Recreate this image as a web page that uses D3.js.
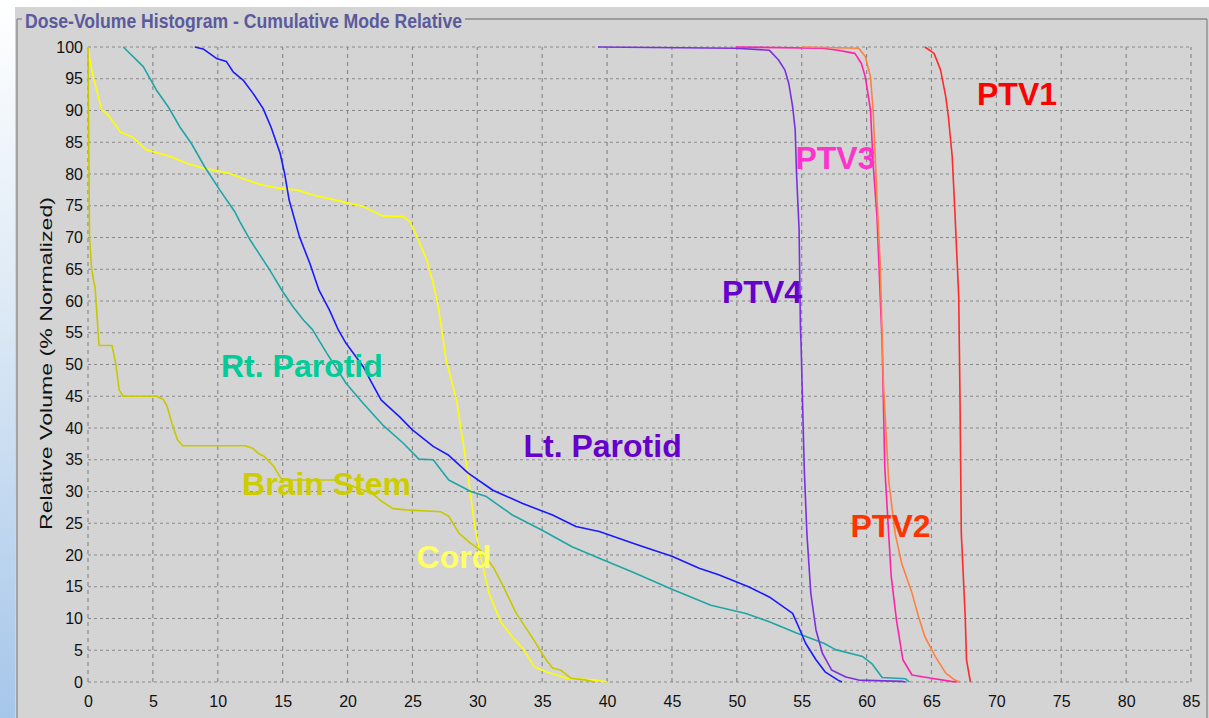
<!DOCTYPE html>
<html>
<head>
<meta charset="utf-8">
<script src="https://cdn.jsdelivr.net/npm/d3@7"></script>
<style>
  html, body { margin: 0; padding: 0; background: #ffffff; }
  svg { display: block; }
</style>
</head>
<body>
<svg id="chart" width="1209" height="718"></svg>
<script>
// ---------------- DATA ----------------
const xTicks = [0,5,10,15,20,25,30,35,40,45,50,55,60,65,70,75,80,85];
const yTicks = [0,5,10,15,20,25,30,35,40,45,50,55,60,65,70,75,80,85,90,95,100];

const cordDose = [0,0.1,0.4,0.8,1.05,1.55,2.5,3.5,3.9,4.5,6.3,7.6,8.9,10.9,12.0,13.2,14.8,16.1,17.3,18.8,21.2,22.7,24.3,24.8,25.3,26.1,26.6,27.0,27.6,28.4,29.2,29.8,30.2,30.9,31.8,32.7,33.5,34.4,35.3,36.9,39.1,40.0];
const cordVol  = [100,98.4,95.4,92.2,90.1,89.3,86.6,85.7,84.9,83.8,82.8,81.7,80.9,80.1,79.2,78.4,77.7,77.5,76.7,76.0,74.9,73.4,73.3,72.5,70.4,66.5,62.8,59.1,50.7,44.4,33.9,24.5,20.3,14.0,9.5,7.1,5.3,2.4,1.6,0.6,0.3,0];

const brainDose = [0,0.05,0.12,0.28,0.55,0.7,0.85,1.85,2.15,2.4,2.7,5.3,5.8,6.1,6.5,6.9,7.3,12.1,12.7,13.2,13.6,14.3,14.8,15.0,19.1,21.9,22.6,23.5,24.5,27.2,27.8,28.6,29.4,30.2,31.2,31.9,33.0,34.2,35.3,35.8,36.4,37.2,38.4,39.0];
const brainVol  = [100,86.5,70,65,62,57.5,53,53,50,46,45,45,44.5,43.4,40.5,38.1,37.2,37.2,36.8,35.9,35.5,34,32.3,31.8,31.8,29.7,28.5,27.3,27.1,26.8,26.1,23.4,22,20.8,18.2,15.5,10.8,7.1,3.5,2.2,1.9,0.6,0.3,0];

const rtParDose = [2.72,4.26,5.28,6.18,7.08,7.97,9.0,10.15,11.3,11.7,12.5,14.0,15.0,15.8,16.6,17.3,18.4,19.9,21.2,22.7,24.3,25.5,26.6,27.8,29.5,30.7,32.7,35.0,37.3,39.4,42.0,45.0,48.0,50.7,52.5,54.6,56.7,57.6,59.7,60.4,61.2,63.0,63.3];
const rtParVol  = [100,96.9,93.2,90.6,87.4,84.8,81.1,77.5,74.1,72.5,69.6,64.9,61.5,59.1,57.0,55.5,51.8,47.0,43.9,40.5,37.6,35.1,35.0,31.8,30.0,29.2,26.3,23.9,21.3,19.5,17.3,14.6,12.1,10.8,9.5,7.7,6.1,5.1,4.0,2.9,0.7,0.5,0];

const ltParDose = [8.23,8.87,9.9,10.67,11.18,11.95,12.72,13.5,14.1,14.8,15.15,15.5,16.3,17.1,17.8,18.6,19.3,19.9,21.2,21.9,22.6,24.0,25.0,26.6,27.8,29.3,31.2,33.5,35.8,37.6,39.4,42.5,45.0,47.1,48.6,50.9,52.5,54.3,54.8,55.3,56.1,56.8,57.8,58.1];
const ltParVol  = [100,99.7,98.2,97.7,96.1,94.8,92.7,90.3,87.4,83.3,80.1,75.9,70.1,65.9,61.7,58.6,55.4,53.3,49.7,47.0,44.4,41.8,39.7,37.1,35.7,32.9,30.2,28.1,26.3,24.5,23.7,21.5,19.8,17.9,16.9,15.0,13.4,10.8,8.5,6.1,3.5,1.6,0.3,0];

const ptv4Dose = [39.3,49.9,52.5,53.2,53.7,54.0,54.3,54.5,54.6,54.8,54.9,54.95,55.2,55.4,55.7,56.1,56.6,57.3,58.4,59.4,62.7,63.0];
const ptv4Vol  = [100,99.8,99.5,98,96.4,94.3,90.6,86.9,80.1,71.2,56.0,53.3,33.4,23.4,14.0,8.2,4.5,1.9,0.8,0.3,0.1,0];

const ptv3Dose = [49.9,56.6,57.8,59.1,59.6,59.9,60.3,60.5,60.8,61.05,61.2,61.4,61.7,61.9,62.3,62.8,63.5,65.0,66.5,67.0];
const ptv3Vol  = [100,99.8,99.5,99.0,97.4,95.3,90.1,81.7,73.3,60.7,53.3,33.9,23.4,16.6,9.8,3.5,1.1,0.6,0.1,0];

const ptv2Dose = [55.0,59.4,59.9,60.3,60.5,60.8,61.05,61.3,61.7,62.2,62.7,63.5,64.0,64.5,65.3,66.1,66.8,67.2];
const ptv2Vol  = [100,99.8,98.5,95.3,90.1,76.4,65.9,47.0,31.8,23.4,18.7,14.0,10.3,7.1,4.0,1.4,0.3,0];

const ptv1Dose = [64.5,65.2,65.7,66.1,66.3,66.6,66.8,67.1,67.2,67.3,67.6,67.7,68.0];
const ptv1Vol  = [100,99.0,96.4,92.2,89.1,82.7,74.3,60.7,44.4,23.4,10.3,3.5,0];

const labelText = ["PTV1","PTV3","PTV4","Rt. Parotid","Lt. Parotid","Brain Stem","Cord","PTV2"];
const labelDose = [68.51,54.52,48.86,10.25,33.56,11.87,25.32,58.76];
const labelVol  = [90.79,80.71,59.69,48.11,35.51,29.45,17.95,22.83];

const titleText = "Dose-Volume Histogram - Cumulative Mode Relative";
const yTitle = "Relative Volume (% Normalized)";

// ---------------- STYLES ----------------
const series = [
  {dose: cordDose,  vol: cordVol,  color: "#ffff00"},
  {dose: brainDose, vol: brainVol, color: "#c8c800"},
  {dose: rtParDose, vol: rtParVol, color: "#20a5a5"},
  {dose: ltParDose, vol: ltParVol, color: "#1a1aff"},
  {dose: ptv4Dose,  vol: ptv4Vol,  color: "#7b30e0"},
  {dose: ptv3Dose,  vol: ptv3Vol,  color: "#ff22a8"},
  {dose: ptv2Dose,  vol: ptv2Vol,  color: "#ff8040"},
  {dose: ptv1Dose,  vol: ptv1Vol,  color: "#ff2a2a"}
];
const labelColors = ["#ff0000","#ff33cc","#6600cc","#00cc99","#6600cc","#cccc00","#ffff66","#ff3300"];

// ---------------- DRAW ----------------
const svg = d3.select("#chart");
const W = 1209, H = 718;
const bg = "#d4d4d4";

const defs = svg.append("defs");
const grad = defs.append("linearGradient").attr("id","strip").attr("x1",0).attr("y1",0).attr("x2",0).attr("y2",1);
grad.append("stop").attr("offset","0%").attr("stop-color","#ffffff");
grad.append("stop").attr("offset","45%").attr("stop-color","#dbe8f5");
grad.append("stop").attr("offset","100%").attr("stop-color","#a6c6ea");

svg.append("rect").attr("width",W).attr("height",H).attr("fill","#ffffff");
svg.append("rect").attr("x",15).attr("y",7).attr("width",W-15).attr("height",H-7).attr("fill",bg);
svg.append("rect").attr("x",0).attr("y",0).attr("width",15).attr("height",H).attr("fill","url(#strip)");

// group box border
const bc = "#8a8a8a";
const gb = svg.append("g").attr("fill","none").attr("stroke",bc).attr("stroke-width",1.3);
gb.append("line").attr("x1",17).attr("y1",19).attr("x2",17).attr("y2",H);
gb.append("line").attr("x1",17).attr("y1",19).attr("x2",22).attr("y2",19);
gb.append("line").attr("x1",465).attr("y1",19).attr("x2",1207).attr("y2",19);
gb.append("line").attr("x1",1207).attr("y1",19).attr("x2",1207).attr("y2",H);

svg.append("text")
  .attr("x",25).attr("y",27.5)
  .attr("font-family","'Liberation Sans Narrow','Arial Narrow','Liberation Sans',Arial,sans-serif")
  .attr("font-size",21).attr("font-weight","bold")
  .attr("fill","#5a5a9c")
  .attr("textLength",437).attr("lengthAdjust","spacingAndGlyphs")
  .text(titleText);

const x = d3.scaleLinear().domain([0,85]).range([88,1191]);
const y = d3.scaleLinear().domain([0,100]).range([682,47]);

// grid
const grid = svg.append("g").attr("stroke","#8a8a8a").attr("stroke-width",1.2).attr("fill","none");
grid.selectAll("line.h").data(yTicks).join("line").attr("class","h")
  .attr("stroke-dasharray","3,3")
  .attr("x1",x(0)).attr("x2",x(85)).attr("y1",d=>y(d)).attr("y2",d=>y(d));
grid.selectAll("line.v").data(xTicks).join("line").attr("class","v")
  .attr("stroke-dasharray","4,4")
  .attr("y1",y(0)).attr("y2",y(100)).attr("x1",d=>x(d)).attr("x2",d=>x(d));

// axes (labels only)
const fontAx = "'Liberation Sans',Arial,sans-serif";
const xAxis = svg.append("g").attr("transform",`translate(0,${y(0)})`)
  .call(d3.axisBottom(x).tickValues(xTicks).tickSize(0).tickPadding(14).tickFormat(d3.format("d")));
const yAxis = svg.append("g").attr("transform",`translate(${x(0)},0)`)
  .call(d3.axisLeft(y).tickValues(yTicks).tickSize(0).tickPadding(5).tickFormat(d3.format("d")));
[xAxis,yAxis].forEach(a=>{
  a.select(".domain").remove();
  a.selectAll("text").attr("font-family",fontAx).attr("font-size",16).attr("fill","#111");
});

svg.append("text")
  .attr("transform","translate(51.5,363.5) rotate(-90)")
  .attr("text-anchor","middle")
  .attr("font-family",fontAx).attr("font-size",17).attr("fill","#111")
  .attr("textLength",333).attr("lengthAdjust","spacingAndGlyphs")
  .text(yTitle);

// curves
const line = d3.line().x(d=>x(d[0])).y(d=>y(d[1]));
svg.append("g").selectAll("path").data(series).join("path")
  .attr("d", s => line(s.dose.map((d,i)=>[d, s.vol[i]])))
  .attr("fill","none").attr("stroke",s=>s.color).attr("stroke-width",1.6)
  .attr("stroke-linejoin","round");

// annotations
svg.append("g").selectAll("text").data(labelText).join("text")
  .attr("x",(d,i)=>x(labelDose[i])).attr("y",(d,i)=>y(labelVol[i]))
  .attr("font-family",fontAx).attr("font-weight","bold").attr("font-size",32)
  .attr("fill",(d,i)=>labelColors[i])
  .text(d=>d);
</script>
</body>
</html>
